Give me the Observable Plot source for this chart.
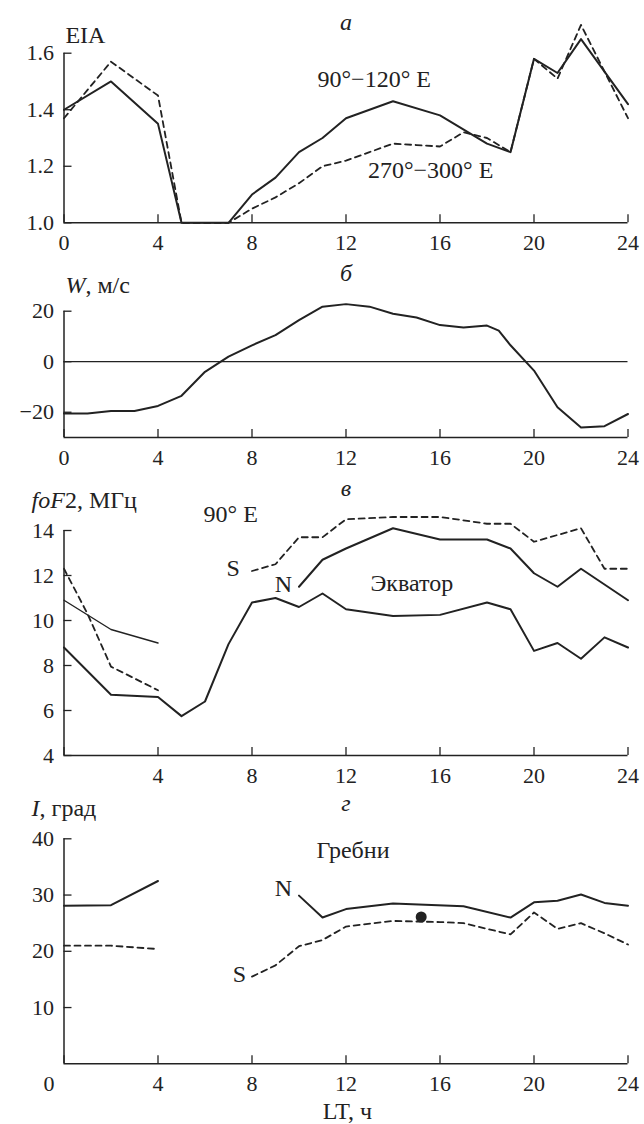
<!DOCTYPE html>
<html><head><meta charset="utf-8">
<script src="https://cdn.jsdelivr.net/npm/d3@7"></script>
<script src="https://cdn.jsdelivr.net/npm/@observablehq/plot@0.6"></script>
<style>
body{margin:0;background:#fff;}
#chart{position:relative;width:644px;height:1124px;overflow:hidden;background:#fff;}
#chart svg{position:absolute;left:0;}
#chart svg, #chart svg text, #chart svg g {font-family: "Liberation Serif", "Times New Roman", serif !important;}
</style></head><body><div id="chart"></div>
<script>
// ---------- data ----------
// Panel а: EIA
const eiaHours90 = [0,2,4,5,6,7,8,9,10,11,12,14,16,18,19,20,21,22,24];
const eia90_120 = [1.40,1.50,1.35,1.00,1.00,1.00,1.10,1.16,1.25,1.30,1.37,1.43,1.38,1.28,1.25,1.58,1.53,1.65,1.42];
const eiaHours270 = [0,2,4,5,6,7,8,9,10,11,12,13,14,15,16,17,18,19,20,21,22,24];
const eia270_300 = [1.37,1.57,1.45,1.00,1.00,1.00,1.05,1.09,1.14,1.20,1.22,1.25,1.28,1.275,1.27,1.32,1.30,1.25,1.58,1.51,1.70,1.37];
// Panel б: W, m/s
const wHours = [0,1,2,3,4,5,6,7,8,9,10,11,12,13,14,15,16,17,18,18.5,19,20,21,22,23,24];
const wValues = [-20.5,-20.5,-19.5,-19.5,-17.5,-13.5,-4,2,6.5,10.5,16.5,21.8,22.8,21.8,19,17.5,14.5,13.5,14.3,12.3,6.5,-3.5,-18,-26,-25.5,-20.7];
// Panel в: foF2, MHz (90° E)
const fEqHours = [0,2,4,5,6,7,8,9,10,11,12,14,16,18,19,20,21,22,23,24];
const fEquator = [8.8,6.7,6.6,5.75,6.4,8.95,10.8,11.0,10.6,11.2,10.5,10.2,10.25,10.8,10.5,8.65,9.0,8.3,9.25,8.8];
const fNNightHours = [0,2,4];
const fNNight = [10.9,9.6,9.0];
const fSNightHours = [0,1,2,4];
const fSNight = [12.3,10.3,7.95,6.9];
const fNDayHours = [10,11,12,14,16,18,19,20,21,22,23,24];
const fNDay = [11.5,12.7,13.2,14.1,13.6,13.6,13.2,12.1,11.5,12.3,11.6,10.9];
const fSDayHours = [8,9,10,11,12,14,16,18,19,20,22,23,24];
const fSDay = [12.2,12.5,13.7,13.7,14.5,14.6,14.6,14.3,14.3,13.5,14.1,12.3,12.3];
// Panel г: I, deg (crests)
const iNNightHours = [0,2,4];
const iNNight = [28.1,28.2,32.5];
const iSNightHours = [0,2,4];
const iSNight = [21,21,20.4];
const iNDayHours = [10,11,12,14,17,19,20,21,22,23,24];
const iNDay = [29.9,26,27.5,28.5,28,26,28.7,29,30.1,28.6,28.1];
const iSDayHours = [8,9,10,11,12,14,16,17,19,20,21,22,23,24];
const iSDay = [15.5,17.5,20.9,22,24.4,25.4,25.2,25,23,26.9,24,25,23.2,21.2];
const dotHour = [15.2];
const dotValue = [26.1];

// ticks
const xTicks = [0,4,8,12,16,20,24];
const yTicksA = [1.0,1.2,1.4,1.6];
const yTicksB = [-20,0,20];
const yTicksC = [4,6,8,10,12,14];
const yTicksD = [10,20,30,40];

// text labels
const labelsA = [
  {t:"а", x:12, y:1.71, a:"middle", s:"italic"},
  {t:"EIA", x:0.06, y:1.662, a:"start", s:"normal"},
  {t:"90°−120° E", x:13.2, y:1.507, a:"middle", s:"normal"},
  {t:"270°−300° E", x:15.6, y:1.185, a:"middle", s:"normal"}
];
const labelsB = [
  {t:"б", x:12, y:35.1, a:"middle", s:"italic"},
  {t:"W, м/с", x:0.06, y:30.3, a:"start", s:"normal"}
];
const labelsC = [
  {t:"в", x:12, y:15.87, a:"middle", s:"italic"},
  {t:"foF2, МГц", x:-1.38, y:15.33, a:"start", s:"normal"},
  {t:"90° E", x:5.94, y:14.71, a:"start", s:"normal"},
  {t:"S", x:7.2, y:12.31, a:"middle", s:"normal"},
  {t:"N", x:9.34, y:11.6, a:"middle", s:"normal"},
  {t:"Экватор", x:14.8, y:11.64, a:"middle", s:"normal"}
];
const labelsD = [
  {t:"г", x:12, y:46.3, a:"middle", s:"italic"},
  {t:"I, град", x:-1.38, y:45.4, a:"start", s:"normal"},
  {t:"Гребни", x:12.3, y:38, a:"middle", s:"normal"},
  {t:"N", x:9.34, y:31.2, a:"middle", s:"normal"},
  {t:"S", x:7.47, y:15.9, a:"middle", s:"normal"},
  {t:"LT, ч", x:12.06, y:-8.5, a:"middle", s:"normal"}
];

// ---------- drawing ----------
const W = 644, ML = 63.5, MR = 16.5;
const INK = "#222";
const FONT = "Liberation Serif";
const zip = (xs, ys) => xs.map((x, i) => ({x, y: ys[i]}));
const solid = (xs, ys, w = 2) => Plot.line(zip(xs, ys), {x: "x", y: "y", stroke: INK, strokeWidth: w});
const dashed = (xs, ys) => Plot.line(zip(xs, ys), {x: "x", y: "y", stroke: INK, strokeWidth: 1.8, strokeDasharray: "6,4.5"});
const texts = (labels) => {
  const out = [];
  for (const a of ["start", "middle"]) for (const s of ["normal", "italic"]) {
    const sub = labels.filter(d => d.a === a && d.s === s);
    if (sub.length) out.push(Plot.text(sub, {x: "x", y: "y", text: "t", textAnchor: a, fontStyle: s, fontSize: 24, fill: INK, fontFamily: FONT}));
  }
  return out;
};

function panel({top, height, mt, mb, yd, yTicks, yFmt, xT, xFmt, marks, zeroLeft = false}) {
  const innerH = height - mt - mb;
  const pxY = innerH / (yd[1] - yd[0]);
  const pxX = (W - ML - MR) / 24;
  const tl = 8;
  const yTop = Math.max(...yTicks);
  const p = Plot.plot({
    width: W, height, marginTop: mt, marginBottom: mb, marginLeft: ML, marginRight: MR,
    x: {domain: [0, 24]}, y: {domain: yd},
    style: {fontFamily: FONT, fontSize: "22px", color: INK, background: "transparent", overflow: "visible"},
    marks: [
      Plot.axisX(xT, {tickSize: 0, tickPadding: 12, tickFormat: xFmt, fontSize: 22, label: null, fontFamily: FONT}),
      ...(zeroLeft ? [Plot.axisX([0], {tickSize: 0, tickPadding: 12, dx: -15, fontSize: 22, label: null, fontFamily: FONT})] : []),
      Plot.axisY(yTicks, {tickSize: 0, tickPadding: 10, tickFormat: yFmt, fontSize: 22, label: null, fontFamily: FONT}),
      Plot.ruleY([yd[0]], {stroke: INK, strokeWidth: 1.5}),
      Plot.ruleX([0], {y1: yd[0], y2: yTop, stroke: INK, strokeWidth: 1.5}),
      Plot.ruleX(xTicks, {x: d => d, y1: yd[0], y2: yd[0] + tl / pxY, stroke: INK, strokeWidth: 1.3}),
      Plot.ruleY(yTicks, {y: d => d, x1: 0, x2: tl / pxX, stroke: INK, strokeWidth: 1.3}),
      ...marks
    ]
  });
  p.style.top = top + "px";
  p.querySelectorAll("text").forEach(t => {
    const s = t.textContent;
    if (s === "W, м/с") t.innerHTML = '<tspan font-style="italic">W</tspan>, м/с';
    else if (s === "foF2, МГц") t.innerHTML = '<tspan font-style="italic">foF</tspan>2, МГц';
    else if (s === "I, град") t.innerHTML = '<tspan font-style="italic">I</tspan>, град';
  });
  document.getElementById("chart").appendChild(p);
}

const minus = d => d < 0 ? "−" + Math.abs(d) : String(d);

panel({top: 0, height: 255, mt: 52.7, mb: 32.7, yd: [1.0, 1.6], yTicks: yTicksA, yFmt: d => d.toFixed(1),
  xT: xTicks, xFmt: d => String(d),
  marks: [dashed(eiaHours270, eia270_300), solid(eiaHours90, eia90_120), ...texts(labelsA)]});

panel({top: 255, height: 215, mt: 55.7, mb: 33, yd: [-30, 20], yTicks: yTicksB, yFmt: minus,
  xT: xTicks, xFmt: d => String(d),
  marks: [Plot.ruleY([0], {stroke: INK, strokeWidth: 1.2}), solid(wHours, wValues), ...texts(labelsB)]});

panel({top: 470, height: 318, mt: 60, mb: 33, yd: [4, 14], yTicks: yTicksC, yFmt: d => String(d),
  xT: xTicks.filter(d => d > 0), xFmt: d => String(d),
  marks: [
    solid(fEqHours, fEquator), solid(fNNightHours, fNNight, 1.4), dashed(fSNightHours, fSNight),
    solid(fNDayHours, fNDay), dashed(fSDayHours, fSDay), ...texts(labelsC)]});

panel({top: 788, height: 336, mt: 50.3, mb: 60.7, yd: [0, 40], yTicks: yTicksD, yFmt: d => String(d),
  xT: xTicks.filter(d => d > 0), xFmt: d => String(d), zeroLeft: true,
  marks: [
    solid(iNNightHours, iNNight), dashed(iSNightHours, iSNight),
    solid(iNDayHours, iNDay), dashed(iSDayHours, iSDay),
    Plot.dot(zip(dotHour, dotValue), {x: "x", y: "y", r: 5.5, fill: INK, stroke: "none"}),
    ...texts(labelsD)]});
</script></body></html>
